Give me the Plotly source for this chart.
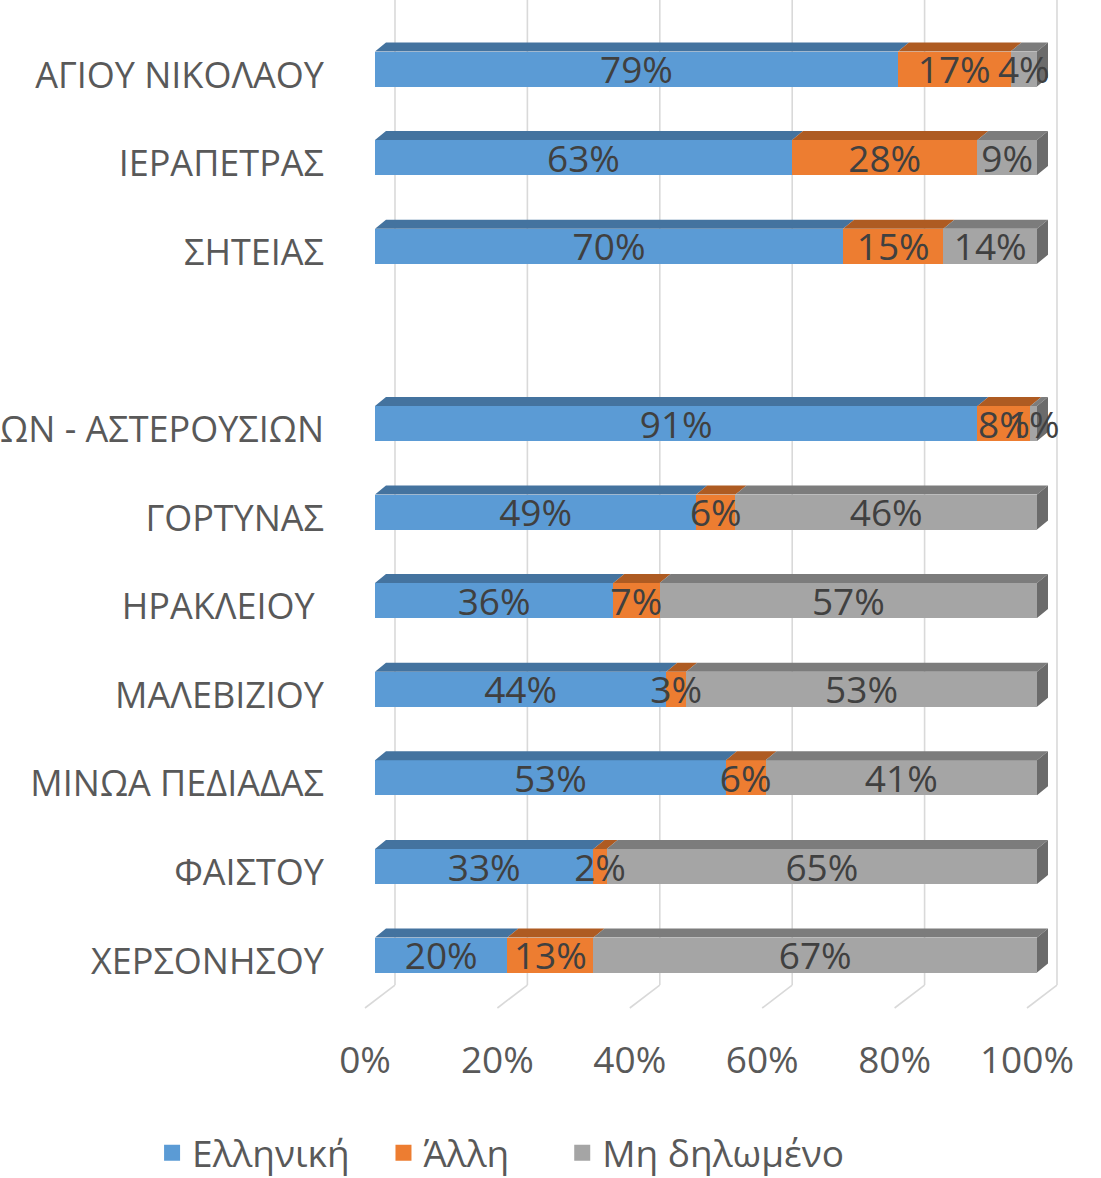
import plotly.graph_objects as go

# ---- data ----
categories = ["ΧΕΡΣΟΝΗΣΟΥ", "ΦΑΙΣΤΟΥ", "ΜΙΝΩΑ ΠΕΔΙΑΔΑΣ", "ΜΑΛΕΒΙΖΙΟΥ", "ΗΡΑΚΛΕΙΟΥ\u00a0",
              "ΓΟΡΤΥΝΑΣ", "ΑΡΧΑΝΩΝ - ΑΣΤΕΡΟΥΣΙΩΝ", "", "ΣΗΤΕΙΑΣ", "ΙΕΡΑΠΕΤΡΑΣ", "ΑΓΙΟΥ ΝΙΚΟΛΑΟΥ"]
ellhniki = [20, 33, 53, 44, 36, 49, 91, None, 70, 63, 79]
allh = [13, 2, 6, 3, 7, 6, 8, None, 15, 28, 17]
mh_dhlwmeno = [67, 65, 41, 53, 57, 46, 1, None, 14, 9, 4]
series_names = ["Ελληνική", "Άλλη", "Μη δηλωμένο"]
tick_vals = [0, 20, 40, 60, 80, 100]
tick_text = ["0%", "20%", "40%", "60%", "80%", "100%"]

# ---- styles ----
front_colors = ["#5B9BD5", "#ED7D31", "#A5A5A5"]
top_colors = ["#44739F", "#AE5B22", "#7C7C7C"]
side_color = "#6B6B6B"
legend_pad = ["\u00a0\u00a0\u00a0", "\u00a0\u00a0\u00a0\u00a0\u00a0", ""]
FONT = "Open Sans"
BAR_W = 0.395
DX = 1.66    # depth offset in x units
DY = 0.1016  # depth offset in y units
LABEL_DY = -0.055

series = [ellhniki, allh, mh_dhlwmeno]
ypos = list(range(len(categories)))

fig = go.Figure()

# back gridlines and floor
grid_shapes = []
for v in tick_vals:
    grid_shapes.append(dict(type="line", xref="x", yref="paper", x0=v + 3.02, x1=v + 3.02,
                            y0=0.0228, y1=1.0, line=dict(color="#D9D9D9", width=1.6), layer="below"))
    grid_shapes.append(dict(type="line", xref="x", yref="paper", x0=v + 3.02, x1=v - 1.51,
                            y0=0.0228, y1=0.0, line=dict(color="#D9D9D9", width=1.6), layer="below"))

# normalized values (100% stacked)
norm = []
for k in range(len(categories)):
    vals = [s[k] for s in series]
    if vals[0] is None:
        norm.append(None)
        continue
    tot = sum(vals)
    norm.append([v * 100.0 / tot for v in vals])

# bars
for si, name in enumerate(series_names):
    fig.add_trace(go.Bar(
        y=ypos, x=series[si], orientation="h", name=name, width=BAR_W,
        marker=dict(color=front_colors[si], line=dict(width=0)),
        hoverinfo="skip", showlegend=False, legendgroup=name,
    ))

# top faces
for si in range(3):
    xs, ys = [], []
    for k in ypos:
        if norm[k] is None:
            continue
        x0 = sum(norm[k][:si])
        x1 = x0 + norm[k][si]
        yt = k + BAR_W / 2
        xs += [x0, x1, x1 + DX, x0 + DX, x0, None]
        ys += [yt, yt, yt + DY, yt + DY, yt, None]
    fig.add_trace(go.Scatter(x=xs, y=ys, mode="lines", fill="toself", fillcolor=top_colors[si],
                             line=dict(width=0), showlegend=False, hoverinfo="skip"))

# right side faces
xs, ys = [], []
for k in ypos:
    if norm[k] is None:
        continue
    end = sum(norm[k])
    yt = k + BAR_W / 2
    yb = k - BAR_W / 2
    xs += [end, end + DX, end + DX, end, end, None]
    ys += [yt, yt + DY, yb + DY, yb, yt, None]
fig.add_trace(go.Scatter(x=xs, y=ys, mode="lines", fill="toself", fillcolor=side_color,
                         line=dict(width=0), showlegend=False, hoverinfo="skip"))

# data labels
lx, ly, lt = [], [], []
for k in ypos:
    if norm[k] is None:
        continue
    cum = 0
    for si in range(3):
        lx.append(cum + norm[k][si] / 2)
        ly.append(k + LABEL_DY)
        lt.append(f"{series[si][k]}%")
        cum += norm[k][si]
fig.add_trace(go.Scatter(x=lx, y=ly, text=lt, mode="text", textposition="middle center",
                         textfont=dict(family=FONT, size=37, color="#404040"),
                         showlegend=False, hoverinfo="skip"))

# legend entries (square swatches)
for si, name in enumerate(series_names):
    fig.add_trace(go.Scatter(x=[None], y=[None], mode="markers", name=name + legend_pad[si],
                             legendgroup=name,
                             marker=dict(symbol="square", size=16, color=front_colors[si]),
                             hoverinfo="skip"))

fig.update_layout(
    width=1101, height=1178,
    barmode="stack", barnorm="percent",
    paper_bgcolor="white", plot_bgcolor="white",
    margin=dict(l=340, r=0, t=0, b=170, autoexpand=False),
    font=dict(family=FONT, color="#595959"),
    shapes=grid_shapes,
    showlegend=True,
    legend=dict(orientation="h", x=0.211, xanchor="center", y=-0.144, yanchor="middle",
                font=dict(family=FONT, size=37, color="#595959"), traceorder="normal",
                itemclick=False, itemdoubleclick=False),
    hovermode=False,
)
fig.update_xaxes(range=[-5.287, 109.668], showgrid=False, zeroline=False, showline=False,
                 tickvals=tick_vals, ticktext=tick_text, ticks="",
                 tickfont=dict(family=FONT, size=37, color="#595959"),
                 automargin=False, ticklabelshift=-10, ticklabelstandoff=27)
fig.update_yaxes(range=[-0.598, 10.779], showgrid=False, zeroline=False, showline=False,
                 tickvals=[i for i in ypos if categories[i] != ""],
                 ticktext=[c for c in categories if c != ""], ticks="",
                 tickfont=dict(family=FONT, size=36, color="#595959"),
                 automargin=False, ticklabelshift=6, ticklabelstandoff=15)

fig.write_html("out.html", post_script="document.body.style.margin='0';",
               config={"displayModeBar": False})
